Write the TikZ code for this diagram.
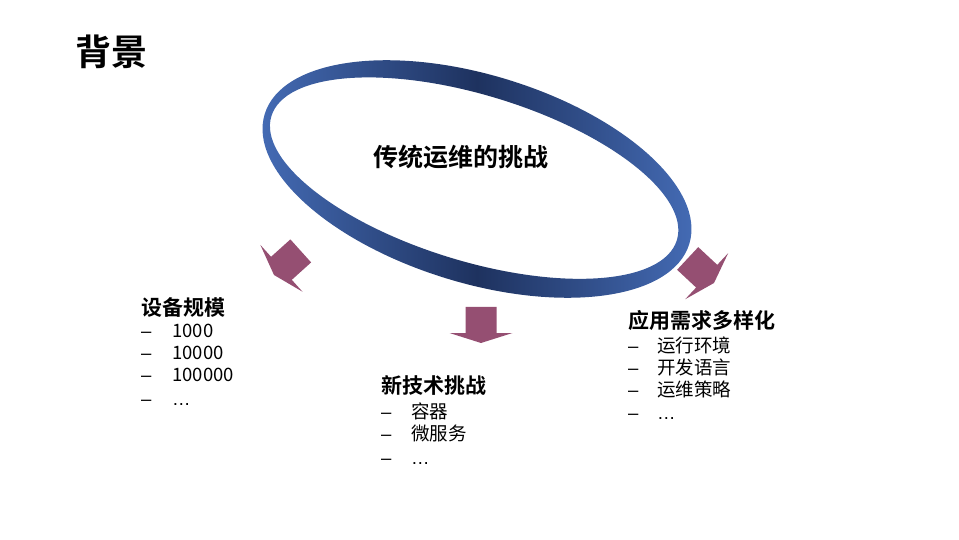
\documentclass[tikz,border=0pt]{standalone}
\usepackage{fontspec}
\setmainfont{Noto Sans CJK SC}
\newfontfamily\cjkb{Noto Sans CJK SC Bold}
\newfontfamily\lat{Liberation Sans}
\begin{document}
\begin{tikzpicture}[x=1pt,y=1pt,
  lbl/.style={anchor=base west,inner sep=0pt,font=\fontsize{18.5}{20}\selectfont},
  hd/.style={anchor=base west,inner sep=0pt,font=\cjkb\fontsize{21}{22}\selectfont},
  blockarrow/.style={fill=arrowc,draw=none}]
\definecolor{arrowc}{HTML}{954F72}
\useasboundingbox (0,0) rectangle (959,539);
% title
\node[anchor=west,inner sep=0pt,font=\cjkb\fontsize{36}{38}\selectfont] (title) at (75,487) {背景};
% ring
\begin{scope}[shift={(477,360)},rotate=-17]
\shade[even odd rule,left color={rgb,255:red,70;green,110;blue,185},right color={rgb,255:red,70;green,110;blue,185},middle color={rgb,255:red,30;green,50;blue,95}]
  (0,0) ellipse [x radius=222,y radius=104]
  (-3,0) ellipse [x radius=212,y radius=83];
\end{scope}
\node[inner sep=0pt,font=\cjkb\fontsize{25}{26}\selectfont] (center) at (461,382) {传统运维的挑战};
% arrows
\def\barrow{(-15.5,36) -- (15.5,36) -- (15.5,10) -- (31.5,10) -- (0,0) -- (-31.5,10) -- (-15.5,10) -- cycle}
\begin{scope}[shift={(481,196)}]
  \fill[blockarrow] \barrow;
\end{scope}
\begin{scope}[shift={(274,264)},rotate=-48]
  \fill[blockarrow] \barrow;
\end{scope}
\begin{scope}[shift={(714,256)},rotate=47]
  \fill[blockarrow] \barrow;
\end{scope}
% left group
\node[hd] (h1) at (141,223) {设备规模};
\foreach \t/\y in {1000/202,10000/180,100000/158,{\lat …}/134}{
  \node[lbl] at (141,\y) {\lat –};
  \node[lbl] at (172,\y) {\t};
}
% middle group
\node[hd] (h2) at (381,146) {新技术挑战};
\foreach \t/\y in {容器/121,微服务/99,{\lat …}/75}{
  \node[lbl] at (381,\y) {\lat –};
  \node[lbl] at (411,\y) {\t};
}
% right group
\node[hd] (h3) at (628,211) {应用需求多样化};
\foreach \t/\y in {运行环境/187,开发语言/165,运维策略/143,{\lat …}/120}{
  \node[lbl] at (628,\y) {\lat –};
  \node[lbl] at (657,\y) {\t};
}
\end{tikzpicture}
\end{document}
